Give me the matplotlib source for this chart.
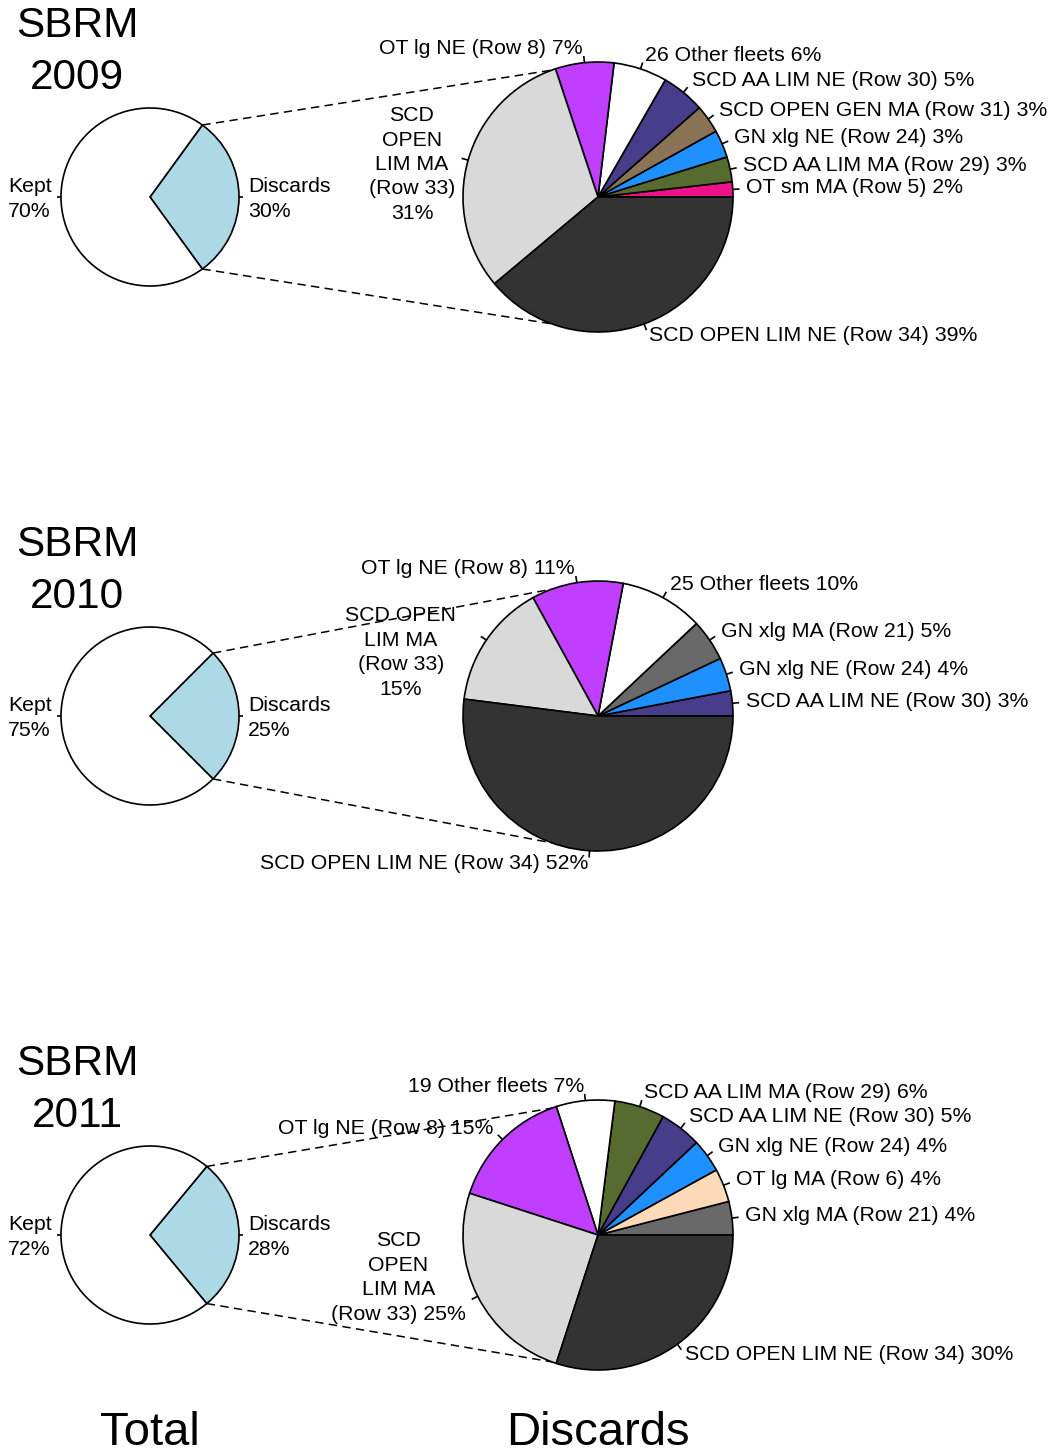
import numpy as np
import matplotlib
matplotlib.use("Agg")
import matplotlib.pyplot as plt

plt.rcParams['font.family'] = ['Liberation Sans', 'DejaVu Sans']

# ---------------- data ----------------
years = ["2009", "2010", "2011"]
kept_pct = [70, 75, 72]
discard_pct = [30, 25, 28]

fleets_2009 = ["OT sm MA (Row 5)", "SCD AA LIM MA (Row 29)", "GN xlg NE (Row 24)",
               "SCD OPEN GEN MA (Row 31)", "SCD AA LIM NE (Row 30)", "26 Other fleets",
               "OT lg NE (Row 8)", "SCD OPEN LIM MA (Row 33)", "SCD OPEN LIM NE (Row 34)"]
share_2009 = [1.8, 3.0, 3.3, 3.4, 5.2, 6.4, 7.0, 31.0, 38.9]
labels_2009 = ["OT sm MA (Row 5) 2%", "SCD AA LIM MA (Row 29) 3%", "GN xlg NE (Row 24) 3%",
               "SCD OPEN GEN MA (Row 31) 3%", "SCD AA LIM NE (Row 30) 5%", "26 Other fleets 6%",
               "OT lg NE (Row 8) 7%", "SCD\nOPEN\nLIM MA\n(Row 33)\n31%",
               "SCD OPEN LIM NE (Row 34) 39%"]

fleets_2010 = ["SCD AA LIM NE (Row 30)", "GN xlg NE (Row 24)", "GN xlg MA (Row 21)",
               "25 Other fleets", "OT lg NE (Row 8)", "SCD OPEN LIM MA (Row 33)",
               "SCD OPEN LIM NE (Row 34)"]
share_2010 = [3, 4, 5, 10, 11, 15, 52]
labels_2010 = ["SCD AA LIM NE (Row 30) 3%", "GN xlg NE (Row 24) 4%", "GN xlg MA (Row 21) 5%",
               "25 Other fleets 10%", "OT lg NE (Row 8) 11%", "SCD OPEN\nLIM MA\n(Row 33)\n15%",
               "SCD OPEN LIM NE (Row 34) 52%"]

fleets_2011 = ["GN xlg MA (Row 21)", "OT lg MA (Row 6)", "GN xlg NE (Row 24)",
               "SCD AA LIM NE (Row 30)", "SCD AA LIM MA (Row 29)", "19 Other fleets",
               "OT lg NE (Row 8)", "SCD OPEN LIM MA (Row 33)", "SCD OPEN LIM NE (Row 34)"]
share_2011 = [4, 4, 4, 5, 6, 7, 15, 25, 30]
labels_2011 = ["GN xlg MA (Row 21) 4%", "OT lg MA (Row 6) 4%", "GN xlg NE (Row 24) 4%",
               "SCD AA LIM NE (Row 30) 5%", "SCD AA LIM MA (Row 29) 6%", "19 Other fleets 7%",
               "OT lg NE (Row 8) 15%", "SCD\nOPEN\nLIM MA\n(Row 33) 25%",
               "SCD OPEN LIM NE (Row 34) 30%"]

# ---------------- style ----------------
fleet_colors = {
    "OT sm MA (Row 5)": "#EE1289",
    "SCD AA LIM MA (Row 29)": "#556B2F",
    "GN xlg NE (Row 24)": "#1E90FF",
    "SCD OPEN GEN MA (Row 31)": "#8B7355",
    "SCD AA LIM NE (Row 30)": "#483D8B",
    "OT lg NE (Row 8)": "#BF3EFF",
    "SCD OPEN LIM MA (Row 33)": "#D9D9D9",
    "SCD OPEN LIM NE (Row 34)": "#333333",
    "GN xlg MA (Row 21)": "#696969",
    "OT lg MA (Row 6)": "#FFDAB9",
}
OTHER_COLOR = "white"

W, H = 1059, 1456
ROW_Y = [197, 716, 1235]          # pie centre rows (pixels from top)
SMALL_X, SMALL_R = 150, 89
BIG_X, BIG_R = 598, 135
TITLE_X, TITLE_DY = 77, -145
LABEL_FS = 15.3
LINESP = 1.36
EDGE_LW = 1.2
TEXT_SHIFT = 1                    # px upward shift of big-pie labels
TEXT_SHIFT_SMALL = -2             # px upward shift of total-pie labels
CONNECT_ANG = 70                  # deg from the left axis on the big pie
# manual nudges (px, image coords) for the multi-line labels
nudges = {(0, 7): (0, 9), (1, 5): (-19, 21), (2, 7): (0, -24)}

fig = plt.figure(figsize=(W / 100, H / 100), dpi=100)
ax = fig.add_axes([0, 0, 1, 1])


def Y(y):
    return H - y


def draw_labels(cx, cy, r, values, labels, start, row_idx=None, malign="center",
                shift=TEXT_SHIFT):
    tot = float(sum(values))
    cum = 0.0
    for i, (v, lab) in enumerate(zip(values, labels)):
        mid = np.deg2rad(start + 360.0 * (cum + v / 2.0) / tot)
        cum += v
        c, s = np.cos(mid), np.sin(mid)
        ax.plot([cx + r * c, cx + 1.05 * r * c], [cy + r * s, cy + 1.05 * r * s],
                color="black", lw=EDGE_LW, solid_capstyle="butt")
        dx, dy = nudges.get((row_idx, i), (0, 0)) if row_idx is not None else (0, 0)
        ax.text(cx + 1.1 * r * c + dx, cy + 1.1 * r * s - dy + shift, lab,
                ha="left" if c >= -1e-9 else "right", va="center",
                multialignment=malign, fontsize=LABEL_FS, linespacing=LINESP)


all_fleets = [fleets_2009, fleets_2010, fleets_2011]
all_shares = [share_2009, share_2010, share_2011]
all_labels = [labels_2009, labels_2010, labels_2011]

for k, yr in enumerate(years):
    cy = Y(ROW_Y[k])
    # total pie
    d, kp = discard_pct[k], kept_pct[k]
    start = -d * 1.8
    ax.pie([d, kp], colors=["#ADD8E6", "white"], startangle=start, counterclock=True,
           center=(SMALL_X, cy), radius=SMALL_R, frame=True,
           wedgeprops=dict(edgecolor="black", linewidth=EDGE_LW))
    draw_labels(SMALL_X, cy, SMALL_R, [d, kp], [f"Discards\n{d}%", f"Kept\n{kp}%"], start,
                malign="left", shift=TEXT_SHIFT_SMALL)

    # discards pie
    cols = [fleet_colors.get(f, OTHER_COLOR) for f in all_fleets[k]]
    ax.pie(all_shares[k], colors=cols, startangle=0, counterclock=True,
           center=(BIG_X, cy), radius=BIG_R, frame=True,
           wedgeprops=dict(edgecolor="black", linewidth=EDGE_LW))
    draw_labels(BIG_X, cy, BIG_R, all_shares[k], all_labels[k], 0, row_idx=k)

    # connecting dashed lines
    th = np.deg2rad(d * 1.8)
    for sgn in (1, -1):
        x0 = SMALL_X + SMALL_R * np.cos(th)
        y0 = cy + sgn * SMALL_R * np.sin(th)
        a = np.deg2rad(180 - sgn * CONNECT_ANG)
        x1 = BIG_X + BIG_R * np.cos(a)
        y1 = cy + BIG_R * np.sin(a)
        ax.plot([x0, x1], [y0, y1], color="black", lw=1.1, linestyle=(0, (5.5, 3.5)))

    # title
    ax.text(TITLE_X, Y(ROW_Y[k] + TITLE_DY), f"SBRM\n{yr}", ha="center", va="center",
            fontsize=30.5, linespacing=1.39)

ax.text(SMALL_X, Y(H - 1), "Total", ha="center", va="bottom", fontsize=34)
ax.text(BIG_X, Y(H - 1), "Discards", ha="center", va="bottom", fontsize=34)

ax.set_xlim(0, W)
ax.set_ylim(0, H)
ax.set_aspect("auto")
ax.axis("off")
fig.savefig("out.png", dpi=100, facecolor="white")
